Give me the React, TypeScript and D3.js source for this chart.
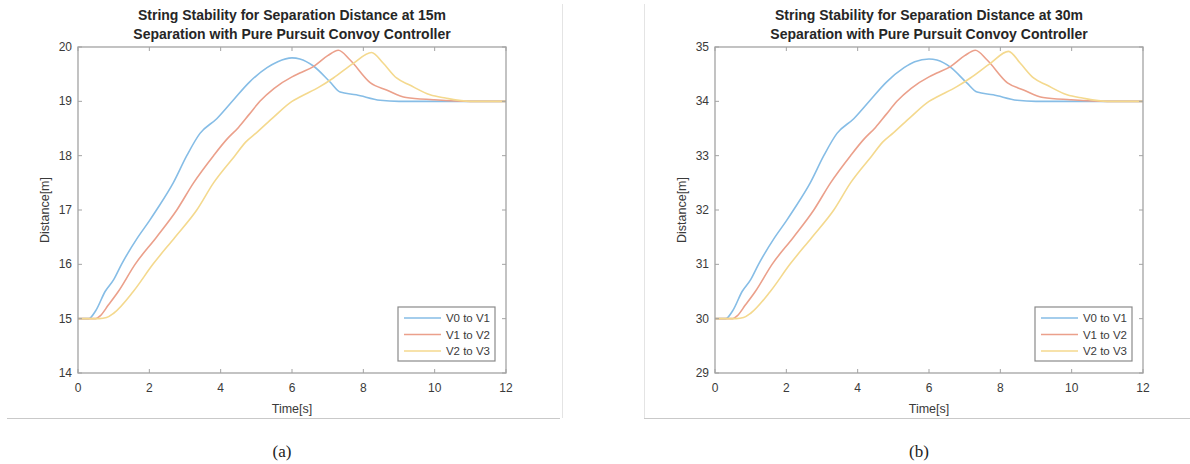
import React, { useRef, useEffect } from 'react';
import * as d3 from 'd3';

// time [s], distance [m] pairs
const sep15_v0v1: [number, number][] = [
  [0, 15], [0.3, 15.0], [0.5, 15.15], [0.76, 15.5], [1.0, 15.72], [1.22, 16.0], [1.68, 16.5],
  [2.0, 16.8], [2.2, 17.0], [2.67, 17.5], [3.05, 18.0], [3.42, 18.41], [3.89, 18.68],
  [4.35, 19.02], [4.8, 19.35], [5.3, 19.62], [5.6, 19.73], [6.0, 19.8], [6.22, 19.78],
  [6.6, 19.65], [7.06, 19.36], [7.35, 19.17], [7.8, 19.12], [8.47, 19.02], [9.0, 19.0], [12, 19.0],
];
const sep15_v1v2: [number, number][] = [
  [0, 15], [0.5, 15.0], [0.62, 15.05], [0.85, 15.25], [1.13, 15.5], [1.6, 16.0], [2.2, 16.5],
  [2.77, 17.0], [3.24, 17.5], [3.8, 18.0], [4.17, 18.3], [4.5, 18.52], [4.8, 18.76], [5.1, 19.0],
  [5.5, 19.24], [6.0, 19.45], [6.22, 19.52], [6.6, 19.64], [7.0, 19.84], [7.3, 19.94], [7.63, 19.76],
  [8.2, 19.34], [8.65, 19.21], [9.2, 19.07], [9.96, 19.03], [11, 19.0], [12, 19.0],
];
const sep15_v2v3: [number, number][] = [
  [0, 15], [0.6, 15.0], [0.8, 15.02], [1.0, 15.1], [1.55, 15.5], [2.1, 16.0], [2.72, 16.5],
  [3.33, 17.0], [3.8, 17.5], [4.4, 18.0], [4.7, 18.25], [5.0, 18.42], [5.5, 18.72], [6.0, 19.0],
  [6.22, 19.08], [6.78, 19.27], [7.16, 19.43], [7.72, 19.7], [8.23, 19.9], [8.56, 19.7],
  [8.93, 19.43], [9.3, 19.3], [9.87, 19.12], [10.3, 19.06], [11, 19.0], [12, 19.0],
];

const sep30_v0v1: [number, number][] = [
  [0, 30], [0.3, 30.0], [0.5, 30.15], [0.76, 30.5], [1.0, 30.72], [1.22, 31.0], [1.68, 31.5],
  [2.0, 31.8], [2.2, 32.0], [2.67, 32.5], [3.05, 33.0], [3.42, 33.41], [3.89, 33.68],
  [4.35, 34.02], [4.8, 34.35], [5.3, 34.62], [5.6, 34.73], [6.0, 34.78], [6.22, 34.76],
  [6.6, 34.63], [7.06, 34.34], [7.35, 34.17], [7.8, 34.12], [8.47, 34.02], [9.0, 34.0], [12, 34.0],
];
const sep30_v1v2: [number, number][] = [
  [0, 30], [0.5, 30.0], [0.62, 30.05], [0.85, 30.25], [1.13, 30.5], [1.6, 31.0], [2.2, 31.5],
  [2.77, 32.0], [3.24, 32.5], [3.8, 33.0], [4.17, 33.3], [4.5, 33.52], [4.8, 33.76], [5.1, 34.0],
  [5.5, 34.24], [6.0, 34.45], [6.22, 34.52], [6.6, 34.64], [7.0, 34.84], [7.3, 34.94], [7.63, 34.76],
  [8.2, 34.34], [8.65, 34.21], [9.2, 34.07], [9.96, 34.03], [11, 34.0], [12, 34.0],
];
const sep30_v2v3: [number, number][] = [
  [0, 30], [0.6, 30.0], [0.8, 30.02], [1.0, 30.1], [1.55, 30.5], [2.1, 31.0], [2.72, 31.5],
  [3.33, 32.0], [3.8, 32.5], [4.4, 33.0], [4.7, 33.25], [5.0, 33.42], [5.5, 33.72], [6.0, 34.0],
  [6.22, 34.08], [6.78, 34.27], [7.16, 34.43], [7.72, 34.7], [8.23, 34.92], [8.56, 34.7],
  [8.93, 34.43], [9.3, 34.3], [9.87, 34.12], [10.3, 34.06], [11, 34.0], [12, 34.0],
];

const seriesNames = ['V0 to V1', 'V1 to V2', 'V2 to V3'];
const seriesColors = ['#86bde6', '#eba08b', '#f4d98e'];
const xTicks = [0, 2, 4, 6, 8, 10, 12];
const yTicks15 = [14, 15, 16, 17, 18, 19, 20];
const yTicks30 = [29, 30, 31, 32, 33, 34, 35];

function Panel({ svgRef, left, titleLines, yTicks, series, caption }: any) {
  useEffect(() => {
    const root = d3.select(svgRef.current);
    const g = root.append('g');

    const plotL = left + 71;
    const plotR = plotL + 428;
    const plotT = 47;
    const plotB = 373;
    const x = d3.scaleLinear().domain([0, 12]).range([plotL, plotR]);
    const y = d3.scaleLinear().domain(d3.extent(yTicks) as [number, number]).range([plotB, plotT]);
    const font = 'Liberation Sans, Arial, sans-serif';

    // bottom line of the figure panel
    g.append('line').attr('x1', left).attr('x2', left + 553)
      .attr('y1', 418.5).attr('y2', 418.5).attr('stroke', '#c9c9c9');

    // title
    titleLines.forEach((t: string, i: number) => {
      g.append('text').attr('x', (plotL + plotR) / 2).attr('y', 20 + i * 19)
        .attr('text-anchor', 'middle').attr('font-family', font).attr('font-weight', 'bold')
        .attr('font-size', 14).attr('fill', '#262626').text(t);
    });

    // lines
    const line = d3.line<[number, number]>()
      .x(d => x(d[0])).y(d => y(d[1])).curve(d3.curveMonotoneX);
    series.forEach((s: [number, number][], i: number) => {
      g.append('path').datum(s).attr('d', line).attr('fill', 'none')
        .attr('stroke', seriesColors[i]).attr('stroke-width', 1.6);
    });

    // axes box with inward ticks on all sides
    g.append('rect').attr('x', plotL).attr('y', plotT).attr('width', plotR - plotL)
      .attr('height', plotB - plotT).attr('fill', 'none').attr('stroke', '#a3a3a3').attr('stroke-width', 1.3);
    xTicks.forEach(t => {
      g.append('line').attr('x1', x(t)).attr('x2', x(t)).attr('y1', plotB).attr('y2', plotB - 4).attr('stroke', '#a3a3a3');
      g.append('line').attr('x1', x(t)).attr('x2', x(t)).attr('y1', plotT).attr('y2', plotT + 4).attr('stroke', '#a3a3a3');
      g.append('text').attr('x', x(t)).attr('y', plotB + 19).attr('text-anchor', 'middle')
        .attr('font-family', font).attr('font-size', 12).attr('fill', '#3a3a3a').text(t);
    });
    yTicks.forEach((t: number) => {
      g.append('line').attr('x1', plotL).attr('x2', plotL + 4).attr('y1', y(t)).attr('y2', y(t)).attr('stroke', '#a3a3a3');
      g.append('line').attr('x1', plotR).attr('x2', plotR - 4).attr('y1', y(t)).attr('y2', y(t)).attr('stroke', '#a3a3a3');
      g.append('text').attr('x', plotL - 6).attr('y', y(t) + 4).attr('text-anchor', 'end')
        .attr('font-family', font).attr('font-size', 12).attr('fill', '#3a3a3a').text(t);
    });

    // axis labels
    g.append('text').attr('x', (plotL + plotR) / 2).attr('y', 413).attr('text-anchor', 'middle')
      .attr('font-family', font).attr('font-size', 12.5).attr('fill', '#3a3a3a').text('Time[s]');
    g.append('text').attr('transform', `translate(${plotL - 29},${(plotT + plotB) / 2}) rotate(-90)`)
      .attr('text-anchor', 'middle').attr('font-family', font).attr('font-size', 12.5)
      .attr('fill', '#3a3a3a').text('Distance[m]');

    // legend
    const lgR = plotR - 11;
    const lgL = lgR - 97;
    const lgT = 307;
    g.append('rect').attr('x', lgL).attr('y', lgT).attr('width', lgR - lgL).attr('height', 54)
      .attr('fill', '#fff').attr('stroke', '#8a8a8a').attr('stroke-width', 1.2);
    seriesNames.forEach((n, i) => {
      const yy = lgT + 11 + i * 16.5;
      g.append('line').attr('x1', lgL + 6).attr('x2', lgL + 43).attr('y1', yy).attr('y2', yy)
        .attr('stroke', seriesColors[i]).attr('stroke-width', 1.6);
      g.append('text').attr('x', lgR - 5).attr('y', yy + 4).attr('text-anchor', 'end')
        .attr('font-family', font).attr('font-size', 11.5).attr('fill', '#3a3a3a').text(n);
    });

    // caption
    g.append('text').attr('x', (plotL + plotR) / 2 - 10).attr('y', 457).attr('text-anchor', 'middle')
      .attr('font-family', 'Liberation Serif, Times New Roman, serif').attr('font-size', 17)
      .attr('fill', '#222').text(caption);

    return () => { g.remove(); };
  }, []);
  return null;
}

export default function App() {
  const svgRef = useRef<SVGSVGElement>(null);
  const [ready, setReady] = React.useState(false);
  useEffect(() => { setReady(true); }, []);
  return (
    <svg ref={svgRef} width={1190} height={464}
      style={{ position: 'absolute', left: 0, top: 0, background: '#fff' }}>
      <line x1={562.5} x2={562.5} y1={4} y2={418} stroke="#e4e4e4" />
      <line x1={644.5} x2={644.5} y1={4} y2={418} stroke="#e4e4e4" />
      {ready && (
        <>
          <Panel svgRef={svgRef} left={7}
            titleLines={['String Stability for Separation Distance at 15m', 'Separation with Pure Pursuit Convoy Controller']}
            yTicks={yTicks15} series={[sep15_v0v1, sep15_v1v2, sep15_v2v3]} caption="(a)" />
          <Panel svgRef={svgRef} left={644}
            titleLines={['String Stability for Separation Distance at 30m', 'Separation with Pure Pursuit Convoy Controller']}
            yTicks={yTicks30} series={[sep30_v0v1, sep30_v1v2, sep30_v2v3]} caption="(b)" />
        </>
      )}
    </svg>
  );
}
